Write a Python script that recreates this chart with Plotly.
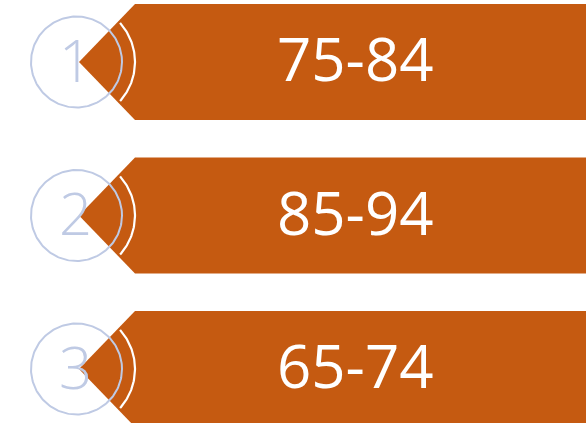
import numpy as np
import plotly.graph_objects as go

# Data
labels = ["75-84", "85-94", "65-74"]
numbers = ["1", "2", "3"]

ORANGE = "#C55A11"
BLUE = "#BFCAE4"

W, H = 588, 423
row_centers = [62, 215.5, 369]
half_h = 58
x_tip = 79
x_body = 135
x_right = 586
cx = 76.5
r_circle = 45.5
r_arc = 58.5

fig = go.Figure()

for i, (lab, num) in enumerate(zip(labels, numbers)):
    yc = row_centers[i]
    # pentagon (arrow pointing left)
    px = [x_tip, x_body, x_right, x_right, x_body, x_tip]
    py = [yc, yc - half_h, yc - half_h, yc + half_h, yc + half_h, yc]
    fig.add_trace(go.Scatter(x=px, y=py, mode="lines", fill="toself",
                             fillcolor=ORANGE, line=dict(width=0, color=ORANGE),
                             hoverinfo="skip", showlegend=False))
    # white arc
    ang = np.linspace(-np.pi / 4.3, np.pi / 4.3, 60)
    fig.add_trace(go.Scatter(x=cx + r_arc * np.cos(ang), y=yc + r_arc * np.sin(ang),
                             mode="lines", line=dict(color="white", width=2.2),
                             hoverinfo="skip", showlegend=False))
    # circle outline
    t = np.linspace(0, 2 * np.pi, 200)
    fig.add_trace(go.Scatter(x=cx + r_circle * np.cos(t), y=yc + r_circle * np.sin(t),
                             mode="lines", line=dict(color=BLUE, width=2),
                             hoverinfo="skip", showlegend=False))
    # number
    fig.add_annotation(x=cx - 1, y=yc - 3, text=num, showarrow=False,
                       xanchor="center", yanchor="middle",
                       font=dict(family="Open Sans", size=58, color=BLUE, weight=300))
    # label
    fig.add_annotation(x=355, y=yc - 4, text=lab, showarrow=False,
                       xanchor="center", yanchor="middle",
                       font=dict(family="Open Sans", size=60, color="white"))

fig.update_layout(
    width=W, height=H,
    margin=dict(l=0, r=0, t=0, b=0),
    paper_bgcolor="white", plot_bgcolor="white",
    xaxis=dict(range=[0, W], visible=False, fixedrange=True),
    yaxis=dict(range=[H, 0], visible=False, fixedrange=True),
)

fig.write_html("out.html", config={"displayModeBar": False},
               post_script="document.body.style.margin='0';document.body.style.overflow='hidden';")
